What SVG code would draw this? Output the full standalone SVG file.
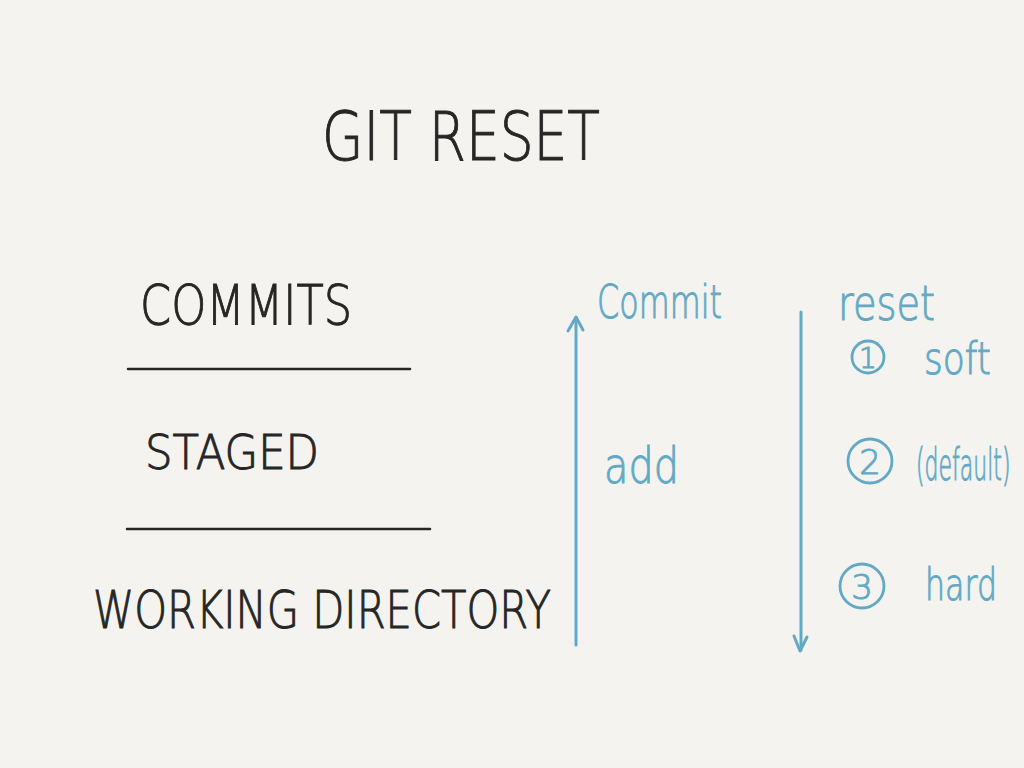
<svg xmlns="http://www.w3.org/2000/svg" width="1024" height="768" viewBox="0 0 1024 768">
<style>
.ink{font-family:"DejaVu Sans","Liberation Sans",sans-serif;font-weight:200;fill:#262626;stroke:#262626;stroke-width:1}
.blue{font-family:"DejaVu Sans","Liberation Sans",sans-serif;font-weight:200;fill:#63a9c6;stroke:#63a9c6;stroke-width:1}
.rule{stroke:#262626;stroke-width:2.5;fill:none;stroke-linecap:round}
.bl{stroke:#63a9c6;stroke-width:3;fill:none;stroke-linecap:round;stroke-linejoin:round}
.circ{stroke:#63a9c6;stroke-width:2.8;fill:none}
</style>
<rect width="1024" height="768" fill="#f4f3f0"/>
<g id="title"><text class="ink" x="322" y="160" font-size="68" textLength="278" lengthAdjust="spacingAndGlyphs">GIT RESET</text></g>
<g id="commits"><text class="ink" x="140" y="324" font-size="56" textLength="212" lengthAdjust="spacingAndGlyphs">COMMITS</text></g>
<g id="staged"><text class="ink" x="145" y="469" font-size="48" textLength="174" lengthAdjust="spacingAndGlyphs">STAGED</text></g>
<g id="working-directory"><text class="ink" x="93" y="628" font-size="52" textLength="458" lengthAdjust="spacingAndGlyphs">WORKING DIRECTORY</text></g>
<g id="dividers">
<line class="rule" x1="128" y1="369" x2="410" y2="369"/>
<line class="rule" x1="127" y1="529" x2="430" y2="529"/>
</g>
<g id="connectors">
<path class="bl" d="M576 645 L576 318"/>
<path class="bl" d="M568 331 L576 317 L583 330"/>
<path class="bl" d="M801 312 L801 650"/>
<path class="bl" d="M794 636 L800 651 L807 637"/>
</g>
<g id="commit-label"><text class="blue" x="597" y="318" font-size="46" textLength="125" lengthAdjust="spacingAndGlyphs">Commit</text></g>
<g id="add-label"><text class="blue" x="604" y="483" font-size="50" textLength="75" lengthAdjust="spacingAndGlyphs">add</text></g>
<g id="reset-label"><text class="blue" x="838" y="320" font-size="48" textLength="97" lengthAdjust="spacingAndGlyphs">reset</text></g>
<g id="soft">
<circle class="circ" cx="868" cy="357" r="16"/>
<text class="blue" x="868" y="368" font-size="28" text-anchor="middle">1</text>
<text class="blue" x="924" y="374" font-size="44" textLength="67" lengthAdjust="spacingAndGlyphs">soft</text>
</g>
<g id="default">
<circle class="circ" cx="870" cy="461" r="22"/>
<text class="blue" x="870" y="474" font-size="34" text-anchor="middle">2</text>
<text class="blue" transform="translate(916 480) scale(0.5 1)" x="0" y="0" font-size="44">(default)</text>
</g>
<g id="hard">
<circle class="circ" cx="862" cy="586" r="22"/>
<text class="blue" x="862" y="599" font-size="34" text-anchor="middle">3</text>
<text class="blue" x="925" y="600" font-size="44" textLength="72" lengthAdjust="spacingAndGlyphs">hard</text>
</g>
</svg>
